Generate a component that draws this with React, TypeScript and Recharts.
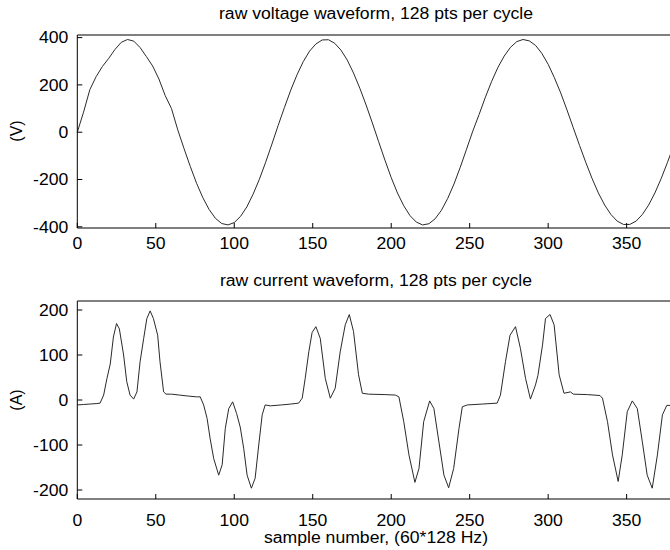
import React from 'react';
import { LineChart, Line, XAxis, YAxis } from 'recharts';

// ---------- data ----------
const voltageSamples = [
  0, 4, 8, 12, 16, 20, 24, 28, 32, 36, 40, 44, 48, 52, 56, 60, 64, 68, 72, 76, 80, 84, 88, 92, 96,
  100, 104, 108, 112, 116, 120, 124, 128, 132, 136, 140, 144, 148, 152, 156, 160, 164, 168, 172, 176,
  180, 184, 188, 192, 196, 200, 204, 208, 212, 216, 220, 224, 228, 232, 236, 240, 244, 248, 252, 256,
  260, 264, 268, 272, 276, 280, 284, 288, 292, 296, 300, 304, 308, 312, 316, 320, 324, 328, 332, 336,
  340, 344, 348, 352, 356, 360, 364, 368, 372, 376, 380, 384,
];
const voltageValues = [
  0, 85, 180, 235, 278, 312, 350, 380, 392, 385, 358, 320, 280, 225, 155, 100, 10, -69, -145, -216,
  -277, -327, -364, -386, -392, -382, -356, -316, -262, -199, -127, -50, 29, 105, 178, 243, 299, 343,
  373, 390, 391, 376, 347, 305, 250, 186, 115, 39, -40, -118, -192, -257, -311, -353, -380, -392, -387,
  -366, -330, -280, -219, -148, -72, 5, 75, 148, 215, 274, 322, 359, 383, 392, 386, 367, 333, 287, 230,
  166, 94, 19, -56, -128, -196, -257, -308, -348, -376, -390, -390, -376, -348, -308, -257, -196, -128,
  -56, 15,
];

const currentSamples = [
  0, 4, 8, 12, 14.5, 16.8, 18.9, 21, 23, 25, 26.8, 29.5, 31.5, 33.6, 35.9, 38, 40, 42.3, 44.3, 46.4,
  48.5, 51.2, 52.7, 55, 56.5, 60, 65, 70, 76, 78.3, 80.5, 82.7, 84.6, 86.9, 90.1, 92.3, 94.3, 96.5, 99,
  101.5, 103.8, 106, 108.2, 110.9, 113.3, 115.6, 117.8, 119.7, 123, 130, 136, 141, 143.3, 145.2, 147.5,
  149.6, 152, 154.8, 158, 161.2, 164.3, 167.5, 170.7, 173.3, 176, 179.2, 181.6, 185.6, 196, 202.6,
  204.9, 208, 211.3, 215.1, 217.7, 220.7, 224.5, 227.2, 230.4, 233.6, 236.6, 239.8, 243.2, 245.3,
  248.5, 258, 267.5, 269.6, 272.8, 275.7, 279.2, 282.3, 285.6, 288.7, 291.9, 293.5, 296.4, 298.3,
  301.2, 303.8, 307, 310.1, 314.2, 316, 325, 333, 334.6, 337.8, 341, 344.6, 347.2, 350.4, 353.6, 356.8,
  360, 363.1, 366.3, 369.6, 372.8, 375.6, 378.2, 384,
];
const currentValues = [
  -11, -10, -9, -8, -7, 11, 48, 80, 140, 170, 158, 100, 41, 11, 2, 18, 85, 137, 181, 198,
  181, 144, 85, 18, 13, 13, 11, 9, 7, 7, -11, -41, -85, -130, -167, -144, -63, -19, -4,
  -30, -60, -107, -167, -196, -174, -100, -33, -11, -13, -11, -9, -7, 4, 48, 107,
  150, 163, 137, 48, 4, 26, 107, 167, 190, 152, 56, 15, 13, 12, 11,
  7, -48, -122, -183, -152, -48, -2, -19, -93, -167, -195, -152, -63, -15,
  -11, -9, -7, 11, 85, 144, 163, 115, 48, 2, 33, 55, 122, 181,
  190, 167, 56, 15, 18, 13, 12, 10, 4, -48, -122, -181, -122, -26, -2, -19,
  -93, -167, -196, -122, -33, -12, -12, -11,
];

const xTicks = [0, 50, 100, 150, 200, 250, 300, 350];
const voltageTicks = [-400, -200, 0, 200, 400];
const currentTicks = [-200, -100, 0, 100, 200];

const topTitle = 'raw voltage waveform, 128 pts per cycle';
const bottomTitle = 'raw current waveform, 128 pts per cycle';
const xLabel = 'sample number, (60*128 Hz)';
const voltageUnit = '(V)';
const currentUnit = '(A)';

const voltageRows = voltageSamples.map((s, i) => ({ s, v: voltageValues[i] }));
const currentRows = currentSamples.map((s, i) => ({ s, v: currentValues[i] }));

// ---------- styling ----------
const FONT = '"Liberation Sans", Arial, Helvetica, sans-serif';
const SX = 1.1;
const FS = 16;
const INK = '#000';
const LINE = '#2a2a2a';

const XTick = (props: any) => {
  const { x, y, payload } = props;
  return (
    <g transform={`translate(${x},${y}) scale(${SX},1)`}>
      <text x={0} y={0} dy="0.71em" textAnchor="middle" fontSize={FS} fontFamily={FONT} fill={INK}>
        {payload.value}
      </text>
    </g>
  );
};

const YTick = (props: any) => {
  const { x, y, payload } = props;
  return (
    <g transform={`translate(${x},${y}) scale(${SX},1)`}>
      <text x={0} y={0} dy="0.355em" textAnchor="end" fontSize={FS} fontFamily={FONT} fill={INK}>
        {payload.value}
      </text>
    </g>
  );
};

const textStyle: React.CSSProperties = {
  position: 'absolute',
  fontFamily: FONT,
  fontSize: FS,
  lineHeight: '16px',
  color: INK,
  whiteSpace: 'nowrap',
};

const Title = ({ text, top }: { text: string; top: number }) => (
  <div style={{ ...textStyle, left: 0, width: 752, top, textAlign: 'center', transform: `scaleX(${SX})` }}>
    {text}
  </div>
);

const Unit = ({ text, cy }: { text: string; cy: number }) => (
  <div
    style={{
      ...textStyle,
      fontSize: 16,
      left: 17 - 30,
      width: 60,
      top: cy - 8,
      textAlign: 'center',
      transform: 'rotate(-90deg)',
    }}
  >
    {text}
  </div>
);

const axisCommon = {
  stroke: INK,
  axisLine: { stroke: INK, strokeWidth: 1 },
  tickLine: { stroke: INK, strokeWidth: 1 },
  tickSize: -5,
};

export default function App() {
  return (
    <div
      style={{
        position: 'absolute',
        left: 0,
        top: 0,
        width: 670,
        height: 550,
        overflow: 'hidden',
        background: '#fff',
      }}
    >
      {/* voltage */}
      <div style={{ position: 'absolute', left: 0, top: 0 }}>
        <LineChart width={680} height={262} data={voltageRows} margin={{ top: 34, right: 0, bottom: 0, left: 0.3 }}>
          <XAxis
            xAxisId="top"
            orientation="top"
            dataKey="s"
            type="number"
            domain={[0, 384]}
            ticks={xTicks}
            tick={false}
            height={1}
            {...axisCommon}
          />
          <XAxis
            dataKey="s"
            type="number"
            domain={[0, 384]}
            ticks={xTicks}
            tick={<XTick />}
            tickMargin={15}
            height={34}
            interval={0}
            {...axisCommon}
          />
          <YAxis
            type="number"
            domain={[-405, 411]}
            ticks={voltageTicks}
            tick={<YTick />}
            tickMargin={14}
            width={77}
            interval={0}
            allowDataOverflow
            {...axisCommon}
          />
          <Line
            xAxisId="top"
            dataKey="v"
            type="linear"
            stroke="none"
            dot={false}
            legendType="none"
            isAnimationActive={false}
          />
          <Line
            dataKey="v"
            type="linear"
            stroke={LINE}
            strokeWidth={1}
            dot={false}
            isAnimationActive={false}
          />
        </LineChart>
      </div>

      {/* current */}
      <div style={{ position: 'absolute', left: 0, top: 0 }}>
        <LineChart width={680} height={550} data={currentRows} margin={{ top: 300, right: 0, bottom: 0, left: 0.3 }}>
          <XAxis
            xAxisId="top"
            orientation="top"
            dataKey="s"
            type="number"
            domain={[0, 384]}
            ticks={xTicks}
            tick={false}
            height={1}
            {...axisCommon}
          />
          <XAxis
            dataKey="s"
            type="number"
            domain={[0, 384]}
            ticks={xTicks}
            tick={<XTick />}
            tickMargin={21}
            height={51}
            interval={0}
            {...axisCommon}
          />
          <YAxis
            type="number"
            domain={[-220, 220]}
            ticks={currentTicks}
            tick={<YTick />}
            tickMargin={14}
            width={77}
            interval={0}
            allowDataOverflow
            {...axisCommon}
          />
          <Line
            xAxisId="top"
            dataKey="v"
            type="linear"
            stroke="none"
            dot={false}
            legendType="none"
            isAnimationActive={false}
          />
          <Line
            dataKey="v"
            type="linear"
            stroke={LINE}
            strokeWidth={1}
            dot={false}
            isAnimationActive={false}
          />
        </LineChart>
      </div>

      <Title text={topTitle} top={6} />
      <Title text={bottomTitle} top={273} />
      <Title text={xLabel} top={530} />
      <Unit text={voltageUnit} cy={131} />
      <Unit text={currentUnit} cy={400} />
    </div>
  );
}
